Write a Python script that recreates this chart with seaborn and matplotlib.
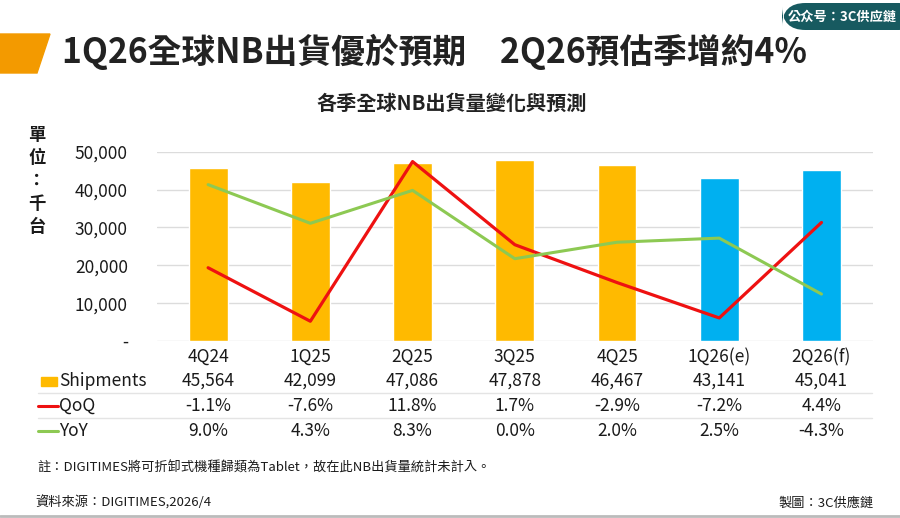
import matplotlib
matplotlib.use("Agg")
import matplotlib.pyplot as plt
import matplotlib.transforms as mtransforms
from matplotlib.patches import Polygon, FancyBboxPatch, Rectangle
from matplotlib.lines import Line2D
import numpy as np
import pandas as pd
import seaborn as sns

# ---------------- data ----------------
quarters = ["4Q24", "1Q25", "2Q25", "3Q25", "4Q25", "1Q26(e)", "2Q26(f)"]
shipments = [45564, 42099, 47086, 47878, 46467, 43141, 45041]
qoq = [-1.1, -7.6, 11.8, 1.7, -2.9, -7.2, 4.4]
yoy = [9.0, 4.3, 8.3, 0.0, 2.0, 2.5, -4.3]
is_forecast = [False, False, False, False, False, True, True]
y_ticks = [0, 10000, 20000, 30000, 40000, 50000]
y_tick_labels = ["-", "10,000", "20,000", "30,000", "40,000", "50,000"]

title = "1Q26全球NB出貨優於預期　2Q26預估季增約4%"
subtitle = "各季全球NB出貨量變化與預測"
unit_label = "單位：千台"
note = "註：DIGITIMES將可折卸式機種歸類為Tablet，故在此NB出貨量統計未計入。"
source = "資料來源：DIGITIMES,2026/4"
maker = "製圖：3C供應鏈"
badge = "公众号：3C供应鏈"

ORANGE = "#FFBA00"
BLUE = "#00B0F0"
RED = "#EE1111"
GREEN = "#8DC953"
TXT = "#1a1a1a"

sns.set_theme(style="white")
plt.rcParams["font.family"] = ["Noto Sans CJK TC", "DejaVu Sans"]

W, H = 900, 518
fig = plt.figure(figsize=(W / 100, H / 100), dpi=100)
fig.patch.set_facecolor("white")

def fx(px):
    return px / W

def fy(py):
    return 1 - py / H

ax = fig.add_axes([fx(157), fy(341), fx(872.6) - fx(157), fy(151.7) - fy(341)])

df = pd.DataFrame({"quarter": quarters, "shipments": shipments,
                   "qoq": qoq, "yoy": yoy})
palette = {q: (BLUE if f else ORANGE) for q, f in zip(quarters, is_forecast)}

sns.barplot(data=df, x="quarter", y="shipments", hue="quarter",
            palette=palette, legend=False, width=0.38, saturation=1,
            ax=ax, zorder=2)
ax.set_ylim(0, 50000)
ax.set_xlim(-0.5, len(quarters) - 0.5)
ax.set_yticks(y_ticks)
ax.set_yticklabels(y_tick_labels, fontsize=12.5, color=TXT)
ax.tick_params(axis="y", length=0, pad=21)
ax.tick_params(axis="x", length=0, pad=5)
for lab in ax.get_xticklabels():
    lab.set_fontsize(12.5)
    lab.set_color(TXT)
ax.set_xlabel("")
ax.set_ylabel("")
ax.grid(axis="y", color="#DCDCDC", linewidth=1, zorder=0)
ax.set_axisbelow(True)
for s in ax.spines.values():
    s.set_visible(False)

ax2 = ax.twinx()
x_pos = np.arange(len(quarters))
sns.lineplot(x=x_pos, y=qoq, ax=ax2, color=RED, linewidth=2.3, zorder=3)
sns.lineplot(x=x_pos, y=yoy, ax=ax2, color=GREEN, linewidth=2.2, zorder=3)
ax2.set_ylim(-10, 13)
ax2.set_yticks([])
ax2.set_ylabel("")
for s in ax2.spines.values():
    s.set_visible(False)
ax2.set_xlim(-0.5, len(quarters) - 0.5)

# ---------------- data table ----------------
trans = mtransforms.blended_transform_factory(ax.transData, fig.transFigure)
rows = [
    ("Shipments", [f"{v:,}" for v in shipments], fy(380.7)),
    ("QoQ", [f"{v:.1f}%" for v in qoq], fy(406)),
    ("YoY", [f"{v:.1f}%" for v in yoy], fy(431)),
]
for label, vals, yy in rows:
    for i, t in enumerate(vals):
        fig.text(i, yy, t, transform=trans, ha="center", va="center",
                 fontsize=12.5, color=TXT)
    fig.text(fx(59), yy, label, ha="left", va="center", fontsize=12.5,
             color=TXT)

# legend keys
fig.patches.append(Rectangle((fx(41), fy(386)), fx(16), fy(376.5) - fy(386),
                             transform=fig.transFigure, color=ORANGE))
fig.lines.append(Line2D([fx(38), fx(58)], [fy(406), fy(406)],
                        transform=fig.transFigure, color=RED, linewidth=2.2))
fig.lines.append(Line2D([fx(38), fx(58)], [fy(431), fy(431)],
                        transform=fig.transFigure, color=GREEN, linewidth=2.2))
for yy in (393.3, 418.3):
    fig.lines.append(Line2D([fx(38), fx(872)], [fy(yy), fy(yy)],
                            transform=fig.transFigure, color="#E4E4E4",
                            linewidth=1))

# ---------------- headings & notes ----------------
fig.patches.append(Polygon([(fx(0), fy(34)), (fx(50), fy(34)), (fx(37), fy(73)),
                            (fx(0), fy(73))], closed=True,
                           transform=fig.transFigure, color="#F39A00"))
fig.text(fx(62), fy(52), title, ha="left", va="center", fontsize=24.3,
         fontweight="bold", color="#222222")
fig.text(fx(452), fy(103), subtitle, ha="center", va="center", fontsize=14.5,
         fontweight="bold", color="#222222")

fig.patches.append(FancyBboxPatch((fx(782), fy(30)), fx(140), fy(3) - fy(30),
                                  boxstyle="round,pad=0,rounding_size=0.026",
                                  transform=fig.transFigure,
                                  facecolor="#175A60", edgecolor="none",
                                  mutation_aspect=W / H))
fig.text(fx(842), fy(16.5), badge, ha="center", va="center", fontsize=9.5,
         fontweight="bold", color="white")

unit_y = [135, 158, 181, 204, 227]
for ch, yy in zip(unit_label, unit_y):
    fig.text(fx(37), fy(yy), ch, ha="center", va="center", fontsize=12.5,
             fontweight="bold", color=TXT)

fig.text(fx(37), fy(468), note, ha="left", va="center", fontsize=9.5, color=TXT)
fig.text(fx(35), fy(503), source, ha="left", va="center", fontsize=9.5, color=TXT)
fig.text(fx(874), fy(503), maker, ha="right", va="center", fontsize=9.5, color=TXT)

fig.lines.append(Line2D([0, 1], [fy(516), fy(516)], transform=fig.transFigure,
                        color="#BBBBBB", linewidth=2))

fig.savefig("out.png", dpi=100, facecolor="white")
